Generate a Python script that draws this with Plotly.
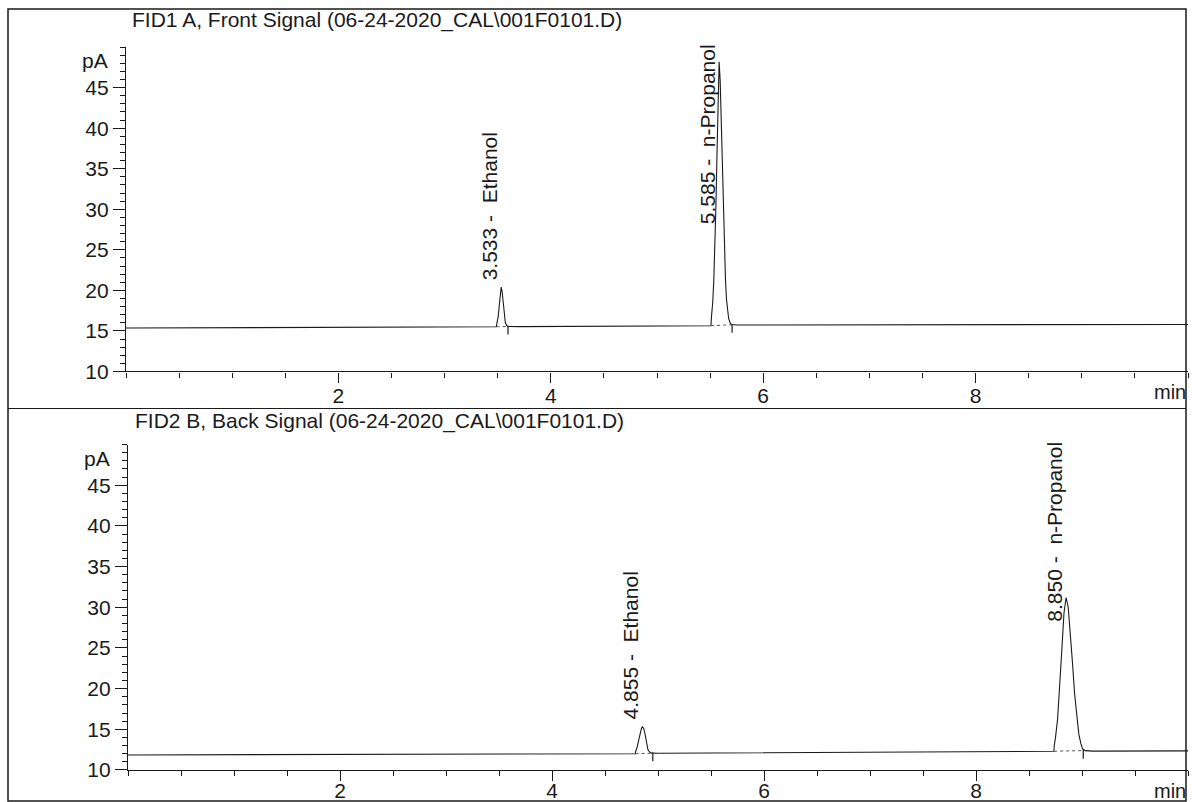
import plotly.graph_objects as go

# ---------------- data ----------------
# FID1 A, Front Signal: retention time (min) and signal (pA)
fid1_time = [0.00, 1.00, 2.00, 3.00, 3.400, 3.487, 3.492, 3.505, 3.515, 3.525,
             3.533, 3.542, 3.552, 3.562, 3.572, 3.585, 3.600, 3.700, 4.50, 5.450,
             5.508, 5.512, 5.525, 5.535, 5.545, 5.555, 5.565, 5.575, 5.585, 5.595,
             5.605, 5.615, 5.625, 5.635, 5.645, 5.655, 5.665, 5.675, 5.690, 5.705,
             5.750, 6.50, 8.00, 10.00]
fid1_signal = [15.35, 15.38, 15.42, 15.47, 15.50, 15.52, 15.90, 16.80, 18.20, 19.70,
               20.40, 19.80, 18.30, 16.90, 16.00, 15.65, 15.55, 15.53, 15.56, 15.62,
               15.64, 16.60, 18.60, 21.30, 25.20, 30.60, 36.80, 43.00, 48.20, 45.80,
               41.00, 35.00, 29.50, 24.80, 21.20, 18.80, 17.30, 16.50, 15.95, 15.78,
               15.72, 15.74, 15.77, 15.80]

# FID2 B, Back Signal
fid2_time = [0.00, 1.00, 2.00, 3.00, 4.00, 4.700, 4.786, 4.790, 4.805, 4.820,
             4.835, 4.845, 4.855, 4.865, 4.875, 4.885, 4.895, 4.905, 4.920, 4.940,
             5.000, 6.00, 7.00, 8.00, 8.700, 8.735, 8.738, 8.750, 8.770, 8.790,
             8.810, 8.830, 8.850, 8.870, 8.890, 8.910, 8.930, 8.950, 8.970, 8.990,
             9.005, 9.030, 9.100, 10.00]
fid2_signal = [11.84, 11.86, 11.88, 11.92, 11.95, 11.98, 12.00, 12.30, 12.90, 13.80,
               14.70, 15.15, 15.30, 15.10, 14.60, 13.80, 13.00, 12.50, 12.20, 12.07,
               12.05, 12.10, 12.18, 12.24, 12.28, 12.30, 13.00, 14.00, 16.30, 20.00,
               24.80, 29.30, 31.20, 30.00, 27.00, 23.20, 19.40, 16.40, 14.40, 13.20,
               12.60, 12.38, 12.32, 12.35]

peak_names = ["Ethanol", "n-Propanol"]
fid1_rt = [3.533, 5.585]
fid1_apex = [20.4, 48.2]
fid1_start = [3.490, 5.510]
fid1_end = [3.597, 5.707]
fid1_base_start = [15.52, 15.64]
fid1_base_end = [15.55, 15.76]

fid2_rt = [4.855, 8.850]
fid2_apex = [15.3, 31.2]
fid2_start = [4.788, 8.737]
fid2_end = [4.951, 9.012]
fid2_base_start = [12.00, 12.30]
fid2_base_end = [12.06, 12.38]

signal_titles = ["FID1 A, Front Signal (06-24-2020_CAL\\001F0101.D)",
                 "FID2 B, Back Signal (06-24-2020_CAL\\001F0101.D)"]
x_ticks = [2, 4, 6, 8]
y_ticks = [10, 15, 20, 25, 30, 35, 40, 45]
x_range = [0, 10]
y_range = [10, 50]

# ---------------- figure ----------------
W, H = 1192, 802          # reference frame used for fractional placement
FIG_H = 814
FONT = "Liberation Sans, Arial, Helvetica, sans-serif"
INK = "#1a1a1a"
fig = go.Figure()

panels = [
    dict(t=fid1_time, s=fid1_signal, rt=fid1_rt, apex=fid1_apex, st=fid1_start,
         en=fid1_end, bs=fid1_base_start, be=fid1_base_end, xa="x", ya="y"),
    dict(t=fid2_time, s=fid2_signal, rt=fid2_rt, apex=fid2_apex, st=fid2_start,
         en=fid2_end, bs=fid2_base_start, be=fid2_base_end, xa="x2", ya="y2"),
]

annotations = []
for i, p in enumerate(panels):
    fig.add_trace(go.Scatter(x=p["t"], y=p["s"], mode="lines",
                             line=dict(color=INK, width=1.1),
                             xaxis=p["xa"], yaxis=p["ya"], showlegend=False,
                             hoverinfo="skip"))
    # dotted integration baselines
    bx, by = [], []
    for a, b, ya_, yb_ in zip(p["st"], p["en"], p["bs"], p["be"]):
        bx += [a, b, None]
        by += [ya_, yb_, None]
    fig.add_trace(go.Scatter(x=bx, y=by, mode="lines",
                             line=dict(color="#555", width=1, dash="dot"),
                             xaxis=p["xa"], yaxis=p["ya"], showlegend=False,
                             hoverinfo="skip"))
    # peak end markers
    mx, my = [], []
    for b, yb_ in zip(p["en"], p["be"]):
        mx += [b, b, None]
        my += [yb_ + 0.1, yb_ - 1.0, None]
    fig.add_trace(go.Scatter(x=mx, y=my, mode="lines",
                             line=dict(color=INK, width=1.2),
                             xaxis=p["xa"], yaxis=p["ya"], showlegend=False,
                             hoverinfo="skip"))
    # peak labels
    xref = p["xa"]
    yref = p["ya"]
    for name, rt, ap in zip(peak_names, p["rt"], p["apex"]):
        label = f"{rt:.3f} -\u00a0 {name}"
        if ap + 20 > y_range[1]:
            annotations.append(dict(x=rt, y=y_range[1], xref=xref, yref=yref,
                                    text=label, textangle=-90, showarrow=False,
                                    xanchor="center", yanchor="top",
                                    xshift=-12, yshift=5,
                                    font=dict(family=FONT, size=21, color=INK)))
        else:
            annotations.append(dict(x=rt, y=ap, xref=xref, yref=yref,
                                    text=label, textangle=-90, showarrow=False,
                                    xanchor="center", yanchor="bottom",
                                    xshift=-12, yshift=5,
                                    font=dict(family=FONT, size=21, color=INK)))
    # pA unit label
    annotations.append(dict(x=0, y=48.3, xref=f"{xref} domain", yref=yref,
                            text="pA", showarrow=False, xanchor="right",
                            yanchor="middle", xshift=-16,
                            font=dict(family=FONT, size=21, color=INK)))
    # min unit label
    annotations.append(dict(x=1, y=0, xref=f"{xref} domain", yref=f"{yref} domain",
                            text="min", showarrow=False, xanchor="right",
                            yanchor="middle", yshift=-21,
                            font=dict(family=FONT, size=20, color=INK)))

# panel titles
annotations.append(dict(x=130 / W, y=1 - 20 / H, xref="paper", yref="paper",
                        text=signal_titles[0], showarrow=False, xanchor="left",
                        yanchor="middle", font=dict(family=FONT, size=21, color=INK)))
annotations.append(dict(x=133 / W, y=1 - 420 / H, xref="paper", yref="paper",
                        text=signal_titles[1], showarrow=False, xanchor="left",
                        yanchor="middle", font=dict(family=FONT, size=21, color=INK)))


def x_axis(standoff):
    return dict(range=x_range, tickvals=x_ticks, ticks="outside", ticklen=10,
                tickwidth=1.2, tickcolor=INK, showline=True, linecolor=INK,
                linewidth=1.2, showgrid=False, zeroline=False,
                ticklabelstandoff=standoff,
                tickfont=dict(family=FONT, size=21, color=INK),
                minor=dict(dtick=0.5, ticks="outside", ticklen=5,
                           tickcolor=INK, tickwidth=1, showgrid=False))


yaxis_common = dict(range=y_range, tickvals=y_ticks, ticks="outside", ticklen=12,
                    tickwidth=1.2, tickcolor=INK, showline=True, linecolor=INK,
                    linewidth=1.2, showgrid=False, zeroline=False,
                    tickfont=dict(family=FONT, size=21, color=INK),
                    minor=dict(dtick=1, ticks="outside", ticklen=5,
                               tickcolor=INK, tickwidth=1, showgrid=False))

fig.update_layout(
    width=W, height=FIG_H,
    margin=dict(l=0, r=0, t=0, b=0),
    paper_bgcolor="white", plot_bgcolor="rgba(0,0,0,0)",
    showlegend=False,
    xaxis=dict(domain=[126 / W, 1188 / W], anchor="y", **x_axis(-5)),
    yaxis=dict(domain=[1 - 371 / H, 1 - 47 / H], anchor="x", **yaxis_common),
    xaxis2=dict(domain=[128 / W, 1188 / W], anchor="y2", **x_axis(-8)),
    yaxis2=dict(domain=[1 - 769 / H, 1 - 444 / H], anchor="x2", **yaxis_common),
    annotations=annotations,
    shapes=[
        dict(type="rect", xref="paper", yref="paper", layer="below",
             x0=8 / W, x1=1186 / W, y0=1 - 800 / H, y1=1 - 9 / H,
             line=dict(color=INK, width=1.5)),
        dict(type="line", xref="paper", yref="paper", layer="below",
             x0=8 / W, x1=1186 / W, y0=1 - 408 / H, y1=1 - 408 / H,
             line=dict(color=INK, width=1.2)),
    ],
)

fig.write_html("out.html",
               config={"displayModeBar": False},
               post_script="document.documentElement.style.margin='0';"
                           "document.body.style.margin='0';"
                           "document.body.style.padding='0';")
